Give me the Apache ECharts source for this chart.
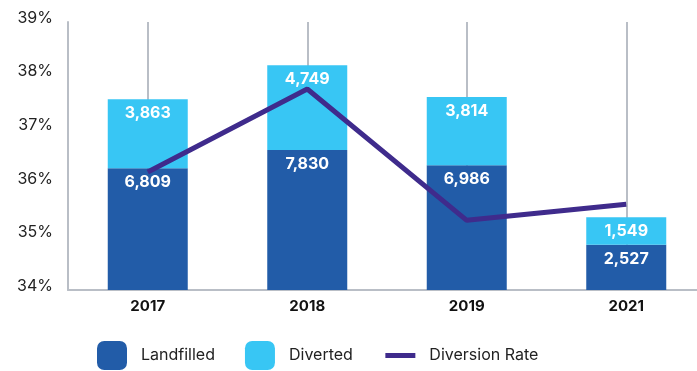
<!DOCTYPE html>
<html>
<head>
<meta charset="utf-8">
<script src="https://cdn.jsdelivr.net/npm/echarts@6/dist/echarts.min.js"></script>
<style>
  html, body { margin: 0; padding: 0; background: #ffffff; }
  #chart { width: 697px; height: 371px; }
</style>
</head>
<body>
<div id="chart"></div>
<script>
// Waste tonnage by year, with the share that was diverted
const years = ['2017', '2018', '2019', '2021'];
const landfilled = [6809, 7830, 6986, 2527];
const diverted = [3863, 4749, 3814, 1549];
const diversionRate = [36.2, 37.75, 35.3, 35.6];
const rateTicks = [34, 35, 36, 37, 38, 39];

const FONT = 'Inter, "Noto Sans", sans-serif';
const GRAY = '#b9bec6';
const fmt = v => Number(v).toLocaleString('en-US');

const chart = echarts.init(document.getElementById('chart'));
chart.setOption({
  animation: false,
  textStyle: { fontFamily: FONT },
  // the plot area runs a little past the right edge of the canvas
  grid: { left: 68, top: 22, width: 638, bottom: 81, containLabel: false, outerBoundsMode: 'none' },
  legend: {
    left: 92,
    top: 336,
    itemWidth: 30,
    itemHeight: 29,
    itemGap: 30,
    textStyle: { fontFamily: FONT, fontSize: 16, color: '#222', padding: [0, 0, 0, 9] },
    data: [
      'Landfilled',
      'Diverted',
      { name: 'Diversion Rate', itemStyle: { opacity: 0 }, lineStyle: { width: 5 } }
    ]
  },
  xAxis: {
    type: 'category',
    data: years,
    axisLine: { show: true, lineStyle: { color: GRAY, width: 2 } },
    axisTick: { show: false },
    axisLabel: { color: '#111', fontFamily: FONT, fontSize: 15, fontWeight: 'bold', margin: 9 },
    splitLine: { show: true, alignWithLabel: true, lineStyle: { color: GRAY, width: 2 } }
  },
  yAxis: [
    {
      type: 'value',
      min: rateTicks[0],
      max: rateTicks[rateTicks.length - 1],
      interval: 1,
      axisLine: { show: true, lineStyle: { color: GRAY, width: 2 } },
      axisTick: { show: false },
      splitLine: { show: false },
      axisLabel: {
        color: '#222', fontFamily: FONT, fontSize: 16, margin: 15,
        verticalAlign: 'bottom', lineHeight: 8,
        formatter: '{value}%'
      }
    },
    {
      type: 'value',
      min: 0,
      max: 15000,
      show: false,
      splitLine: { show: false }
    }
  ],
  series: [
    {
      name: 'Landfilled',
      type: 'bar',
      stack: 'waste',
      yAxisIndex: 1,
      barWidth: 80,
      data: landfilled,
      itemStyle: { color: '#225ca8' },
      label: {
        show: true, position: 'insideTop', distance: 6,
        color: '#fff', fontFamily: FONT, fontSize: 16, fontWeight: 'bold',
        formatter: p => fmt(p.value)
      }
    },
    {
      name: 'Diverted',
      type: 'bar',
      stack: 'waste',
      yAxisIndex: 1,
      barWidth: 80,
      data: diverted,
      itemStyle: { color: '#38c6f4' },
      label: {
        show: true, position: 'insideTop', distance: 6,
        color: '#fff', fontFamily: FONT, fontSize: 16, fontWeight: 'bold',
        formatter: p => fmt(p.value)
      }
    },
    {
      name: 'Diversion Rate',
      type: 'line',
      yAxisIndex: 0,
      data: diversionRate,
      symbol: 'none',
      z: 5,
      lineStyle: { color: '#3f2b8c', width: 5 },
      itemStyle: { color: '#3f2b8c' }
    }
  ]
});
</script>
</body>
</html>
